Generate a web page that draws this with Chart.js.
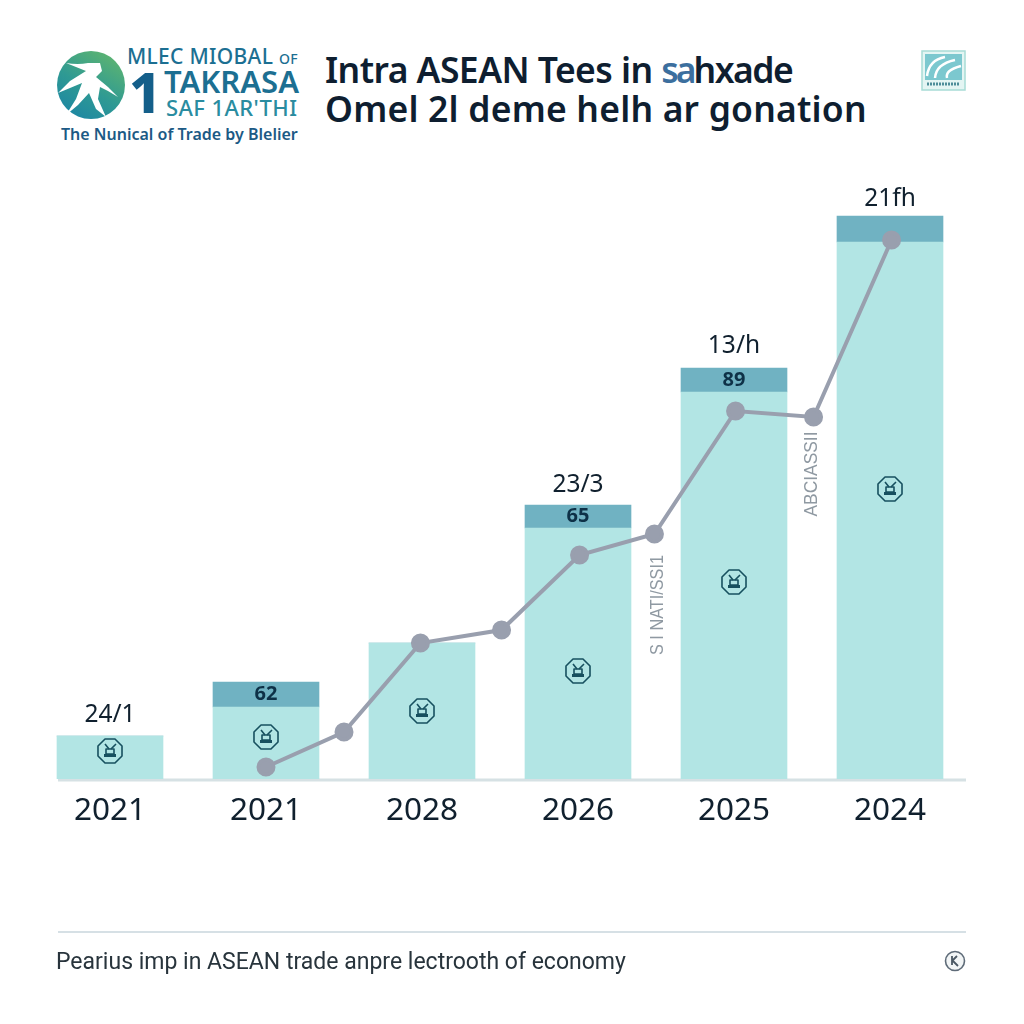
<!DOCTYPE html>
<html>
<head>
<meta charset="utf-8">
<title>Intra ASEAN Trade</title>
<script src="https://cdn.jsdelivr.net/npm/chart.js@4"></script>
<style>
  html, body { margin: 0; padding: 0; background: #fff; }
  #page { position: relative; width: 1024px; height: 1024px; overflow: hidden; font-family: "Noto Sans", sans-serif; }
  canvas#chart { position: absolute; left: 0; top: 0; }
  .t { position: absolute; white-space: nowrap; line-height: 1; }
  .title { font-size: 35.5px; font-weight: 600; color: #0e1e30; left: 325px; }
  .logo { color: #1c6f92; font-family: "Noto Sans", sans-serif; }
  #rule { position: absolute; left: 58px; top: 931px; width: 908px; height: 2px; background: #d6e0e5; }
  #foot { left: 56px; top: 950px; font-size: 23px; color: #28343c; font-family: Roboto, sans-serif; }
  svg { position: absolute; }
</style>
</head>
<body>
<div id="page">
  <svg style="left:56px;top:49px" width="70" height="72" viewBox="0 0 70 72">
    <defs>
      <linearGradient id="g" x1="0.8" y1="0" x2="0.2" y2="1">
        <stop offset="0" stop-color="#5fb56f"/><stop offset="0.55" stop-color="#2f9a93"/><stop offset="1" stop-color="#1c86a4"/>
      </linearGradient>
    </defs>
    <circle cx="35" cy="36" r="34" fill="url(#g)"/>
    <path d="M10 14 Q22 16 32 14 L44 14 L46 22 L40 28 L52 38 L62 48 L52 42 L44 38 L42 50 L50 68 L40 60 L33 44 L22 56 L10 66 L20 50 L26 34 L2 44 L14 32 L30 22 Z" fill="#fff"/>
  </svg>
  <div class="t logo" style="left:127px;top:46px;font-size:21px;font-weight:500;letter-spacing:0.3px">MLEC MIOBAL <span style="font-size:14px">OF</span></div>
  <div class="t logo" style="left:129px;top:63px;font-size:56px;font-weight:800;color:#145f8a">1</div>
  <div class="t logo" style="left:164px;top:66px;font-size:31px;font-weight:600">TAKRASA</div>
  <div class="t logo" style="left:166px;top:96px;font-size:22px;font-weight:500;color:#2a8ca0;letter-spacing:0.4px">SAF 1AR'THI</div>
  <div class="t logo" style="left:61px;top:126px;font-size:16px;font-weight:600;color:#1c5a85">The Nunical of Trade by Blelier</div>

  <div class="t title" style="top:52px;letter-spacing:-0.55px">Intra ASEAN Tees in <span style="color:#3c6f9e;letter-spacing:-3px">sa</span><span style="letter-spacing:-1.5px">hxade</span></div>
  <div class="t title" style="top:91px;letter-spacing:0.2px">Omel 2l deme helh ar gonation</div>

  <svg style="left:921px;top:50px" width="45" height="41" viewBox="0 0 45 41">
    <rect x="1" y="1" width="43" height="39" fill="#e4f5f3" stroke="#a8dcd6" stroke-width="1.5"/>
    <rect x="4" y="4" width="37" height="26" fill="#7cc8cf"/>
    <path d="M6 26 Q8 10 24 7 M14 28 Q15 14 34 10 M26 28 Q24 20 40 16" fill="none" stroke="#fff" stroke-width="2.5"/>
    <path d="M6 34 H39" stroke="#4d8d99" stroke-width="3" stroke-dasharray="2 1"/>
  </svg>

  <canvas id="chart" width="1024" height="1024"></canvas>

  <div id="rule"></div>
  <div id="foot" class="t">Pearius imp in ASEAN trade anpre lectrooth of economy</div>
  <svg style="left:944px;top:950px" width="22" height="22" viewBox="0 0 22 22">
    <circle cx="11" cy="11" r="9.5" fill="#f2f5f6" stroke="#5e6b78" stroke-width="1.6"/>
    <path d="M8 6 V15 M8 11 L13 6 M9 11 L14 16" fill="none" stroke="#4b5864" stroke-width="1.8"/>
  </svg>
</div>

<script>
  const years = ["2021", "2021", "2028", "2026", "2025", "2024"];
  const barBase = [4.3, 7.2, 13.6, 25.1, 38.7, 53.7];
  const barCap = [0, 2.5, 0, 2.3, 2.4, 2.6];
  const capLabels = ["", "62", "", "65", "89", ""];
  const topLabels = ["24/1", "", "", "23/3", "13/h", "21fh"];
  const topLabelY = [6.4, 0, 0, 29.4, 43.3, 58];
  const iconY = [2.8, 4.2, 6.8, 10.8, 19.7, 29];

  const lineX = [1, 1.5, 1.99, 2.51, 3.01, 3.49, 4.01, 4.51, 5.01];
  const lineY = [1.2, 4.7, 13.6, 14.9, 22.4, 24.5, 36.8, 36.2, 53.9];

  const sideLabels = ["S I NATI/SSI1", "ABCIASSII"];
  const sideX = [3.51, 4.5];
  const sideY = [17.4, 30.5];

  const BAR = "#b2e5e4";
  const CAP = "#70b2c2";
  const LINE = "#999fae";
  const INK = "#10202e";

  // labels, badges and the base line, placed through the chart's scales
  const extras = {
    id: "extras",
    beforeDatasetsDraw(chart) {
      const { ctx, scales } = chart;
      ctx.fillStyle = "#d6e1e4";
      ctx.fillRect(58, scales.y.getPixelForValue(0) - 0.5, 908, 3);
    },
    afterDatasetsDraw(chart) {
      const { ctx, scales } = chart;
      const xs = scales.x, ys = scales.y;
      ctx.save();
      ctx.textAlign = "center";
      ctx.textBaseline = "middle";

      years.forEach((y, i) => {
        const cx = xs.getPixelForValue(i);
        if (capLabels[i]) {
          ctx.font = '700 20px "Noto Sans"';
          ctx.fillStyle = "#0e3147";
          ctx.fillText(capLabels[i], cx, ys.getPixelForValue(barBase[i] + barCap[i] / 2));
        }
        if (topLabels[i]) {
          ctx.font = '400 24.5px "Noto Sans"';
          ctx.fillStyle = INK;
          ctx.fillText(topLabels[i], cx, ys.getPixelForValue(topLabelY[i]));
        }
        drawBadge(ctx, cx, ys.getPixelForValue(iconY[i]));
      });

      ctx.fillStyle = "#8f99a2";
      ctx.font = '500 18px "Liberation Sans"';
      sideLabels.forEach((s, i) => {
        ctx.save();
        ctx.translate(xs.getPixelForValue(sideX[i]), ys.getPixelForValue(sideY[i]));
        ctx.rotate(-Math.PI / 2);
        const w = ctx.measureText(s).width;
        ctx.scale((i === 0 ? 100 : 85) / w, 1);
        ctx.fillText(s, 0, 0);
        ctx.restore();
      });
      ctx.restore();
    },
  };

  function drawBadge(ctx, x, y) {
    const r = 13;
    ctx.save();
    ctx.strokeStyle = "#17505f";
    ctx.fillStyle = "#17505f";
    ctx.lineWidth = 1.6;
    ctx.lineJoin = "round";
    ctx.beginPath();
    for (let k = 0; k < 8; k++) {
      const a = Math.PI / 8 + (k * Math.PI) / 4;
      const px = x + r * Math.cos(a), py = y + r * Math.sin(a);
      k ? ctx.lineTo(px, py) : ctx.moveTo(px, py);
    }
    ctx.closePath();
    ctx.stroke();
    // little machine glyph inside
    ctx.fillRect(x - 6, y + 3, 12, 3);
    ctx.strokeRect(x - 4, y - 2, 8, 5);
    ctx.beginPath();
    ctx.moveTo(x - 5, y - 7);
    ctx.lineTo(x - 1, y - 2);
    ctx.moveTo(x + 1, y - 2);
    ctx.lineTo(x + 6, y - 7);
    ctx.stroke();
    ctx.restore();
  }

  const barData = (values) => values.map((v, i) => ({ x: i, y: v }));

  new Chart(document.getElementById("chart"), {
    type: "bar",
    data: {
      datasets: [
        {
          type: "line",
          data: lineX.map((x, i) => ({ x, y: lineY[i] })),
          borderColor: LINE,
          backgroundColor: LINE,
          borderWidth: 4,
          pointRadius: 7.5,
          pointHoverRadius: 7.5,
          tension: 0,
          order: 0,
        },
        { data: barData(barBase), backgroundColor: BAR, barThickness: 106, order: 2 },
        { data: barData(barCap), backgroundColor: CAP, barThickness: 106, order: 2 },
      ],
    },
    options: {
      responsive: false,
      animation: false,
      layout: { padding: { left: 32, right: 56, top: 179, bottom: 0 } },
      plugins: { legend: { display: false }, tooltip: { enabled: false } },
      scales: {
        x: {
          type: "linear",
          offset: false,
          min: -0.5,
          max: 5.5,
          stacked: true,
          grid: { display: false },
          border: { display: false },
          ticks: {
            autoSkip: false,
            maxRotation: 0,
            padding: 5,
            color: INK,
            font: { family: "Noto Sans", size: 31.5 },
            callback: (v) => years[v] ?? "",
          },
          // one tick per bar, the generated ones fall halfway between
          afterBuildTicks: (s) => { s.ticks = years.map((y, i) => ({ value: i })); },
          afterFit: (s) => { s.height = 245; },
        },
        y: { stacked: true, display: false, min: 0, max: 60 },
      },
    },
    plugins: [extras],
  });
</script>
</body>
</html>
